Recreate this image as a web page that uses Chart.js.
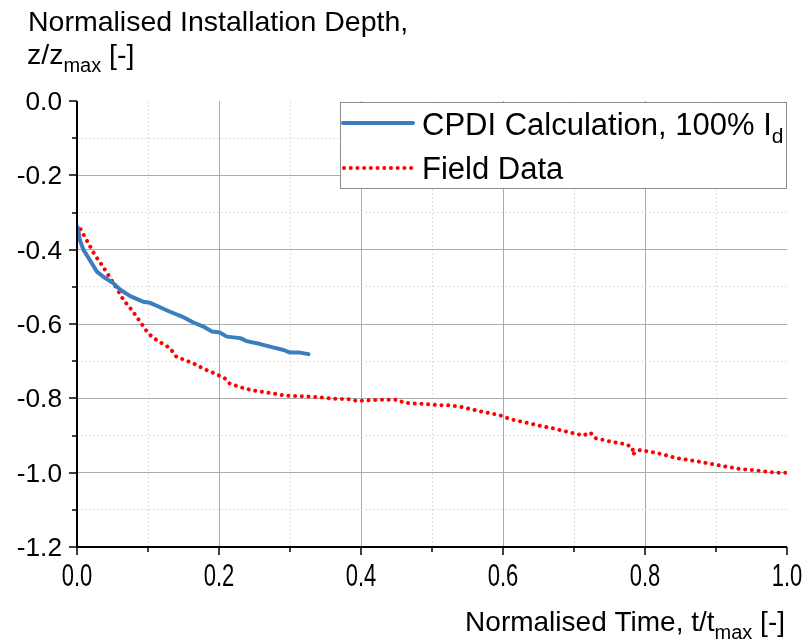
<!DOCTYPE html>
<html>
<head>
<meta charset="utf-8">
<script src="https://cdn.jsdelivr.net/npm/chart.js@4.4.1/dist/chart.umd.min.js"></script>
<style>
    html, body { margin: 0; padding: 0; background: #fff; }
    #wrap { width: 809px; height: 642px; }
</style>
</head>
<body>
<div id="wrap"><canvas id="chart" width="809" height="642"></canvas></div>
<script>
// Data
const cpdiTime = [0.001, 0.004, 0.009, 0.018, 0.028, 0.037, 0.051, 0.061, 0.075, 0.093, 0.103, 0.117, 0.131, 0.148,
    0.164, 0.178, 0.190, 0.201, 0.211, 0.230, 0.239, 0.258, 0.276, 0.291, 0.300, 0.314, 0.326];
const cpdiDepth = [-0.340, -0.374, -0.400, -0.428, -0.459, -0.473, -0.490, -0.508, -0.525, -0.540, -0.543, -0.555, -0.567, -0.580,
    -0.596, -0.607, -0.620, -0.623, -0.634, -0.638, -0.646, -0.654, -0.663, -0.670, -0.677, -0.677, -0.681];

const fieldTime = [0.005, 0.016, 0.025, 0.035, 0.044, 0.056, 0.065, 0.077, 0.089, 0.100, 0.112, 0.131, 0.140, 0.164,
    0.180, 0.194, 0.208, 0.215, 0.230, 0.248, 0.267, 0.295, 0.328, 0.356, 0.385, 0.394, 0.422, 0.453, 0.460,
    0.488, 0.507, 0.525, 0.544, 0.563, 0.582, 0.598, 0.610, 0.629, 0.652, 0.671, 0.690, 0.713, 0.723, 0.730,
    0.748, 0.774, 0.783, 0.782, 0.793, 0.819, 0.845, 0.875, 0.906, 0.934, 0.962, 0.985, 1.000];
const fieldDepth = [-0.345, -0.383, -0.414, -0.441, -0.468, -0.504, -0.534, -0.562, -0.594, -0.625, -0.643, -0.665, -0.688, -0.706,
    -0.722, -0.733, -0.746, -0.760, -0.770, -0.779, -0.784, -0.793, -0.795, -0.800, -0.803, -0.807, -0.804, -0.804, -0.812,
    -0.815, -0.818, -0.819, -0.824, -0.833, -0.840, -0.847, -0.856, -0.864, -0.874, -0.881, -0.890, -0.900, -0.892, -0.907,
    -0.915, -0.924, -0.934, -0.951, -0.939, -0.948, -0.961, -0.970, -0.981, -0.990, -0.995, -1.000, -1.000];

const xTickLabels = ['0.0', '0.2', '0.4', '0.6', '0.8', '1.0'];
const yTickLabels = ['0.0', '-0.2', '-0.4', '-0.6', '-0.8', '-1.0', '-1.2'];

const FONT = '"Liberation Sans", Arial, sans-serif';
const BLUE = '#3a7ebf';
const RED = '#ff0000';

const toPoints = (xs, ys) => xs.map((x, i) => ({ x, y: ys[i] }));

// major = every 0.2, minor = every 0.1
const isMajor = v => Math.round(Math.abs(v) * 10) % 2 === 0;

function gridColor(ctx, edgeValue) {
    const v = ctx.tick ? ctx.tick.value : 0;
    if (Math.abs(v - edgeValue) < 1e-6) return 'rgba(0,0,0,0)';
    return isMajor(v) ? '#ababab' : '#dedede';
}

// text helper, with optional stretch
function text(ctx, str, x, y, size, align = 'left', sx = 1, sy = 1) {
    ctx.save();
    ctx.translate(x, y);
    ctx.scale(sx, sy);
    ctx.font = `${size}px ${FONT}`;
    ctx.fillStyle = '#000';
    ctx.textAlign = align;
    ctx.textBaseline = 'alphabetic';
    ctx.fillText(str, 0, 0);
    const w = ctx.measureText(str).width * sx;
    ctx.restore();
    return w;
}

// draws [text, size, dy] parts one after another
function richText(ctx, parts, x, y) {
    let cx = x;
    parts.forEach(([str, size, dy]) => {
        cx += text(ctx, str, cx, y + (dy || 0), size);
    });
    return cx - x;
}

function richWidth(ctx, parts) {
    return parts.reduce((w, [str, size]) => {
        ctx.font = `${size}px ${FONT}`;
        return w + ctx.measureText(str).width;
    }, 0);
}

const decorations = {
    id: 'decorations',
    afterDraw(chart) {
        const { ctx, chartArea: a, scales } = chart;
        const xs = scales.x, ys = scales.y;

        // axis lines
        ctx.save();
        ctx.strokeStyle = '#000';
        ctx.lineWidth = 2;
        ctx.beginPath();
        ctx.moveTo(a.left, a.top);
        ctx.lineTo(a.left, a.bottom);
        ctx.lineTo(a.right, a.bottom);
        ctx.stroke();

        // tick marks
        ctx.lineWidth = 1.5;
        ys.ticks.forEach(t => {
            const py = Math.round(ys.getPixelForValue(t.value));
            const len = isMajor(t.value) ? 8 : 5;
            ctx.beginPath();
            ctx.moveTo(a.left - len, py);
            ctx.lineTo(a.left, py);
            ctx.stroke();
        });
        xs.ticks.forEach(t => {
            const px = Math.round(xs.getPixelForValue(t.value));
            const len = isMajor(t.value) ? 8 : 5;
            ctx.beginPath();
            ctx.moveTo(px, a.bottom);
            ctx.lineTo(px, a.bottom + len);
            ctx.stroke();
        });
        ctx.restore();

        // tick labels
        yTickLabels.forEach(lbl => {
            const py = ys.getPixelForValue(parseFloat(lbl));
            text(ctx, lbl, 62, py + 9, 25, 'right', 1.05, 1);
        });
        xTickLabels.forEach(lbl => {
            const px = xs.getPixelForValue(parseFloat(lbl));
            text(ctx, lbl, px, 586, 25, 'center', 0.88, 1.22);
        });

        // axis titles
        text(ctx, 'Normalised Installation Depth,', 28, 31, 28.5);
        richText(ctx, [['z/z', 28.5], ['max', 20, 8], [' [-]', 28.5]], 27, 64);

        const xTitle = [['Normalised Time, t/t', 28], ['max', 20, 8], [' [-]', 28]];
        richText(ctx, xTitle, 785 - richWidth(ctx, xTitle), 631);

        // legend
        const box = { x: 340.5, y: 102.5, w: 446, h: 86 };
        ctx.save();
        ctx.fillStyle = '#fff';
        ctx.fillRect(box.x, box.y, box.w, box.h);
        ctx.strokeStyle = '#8c8c8c';
        ctx.lineWidth = 1;
        ctx.strokeRect(box.x, box.y, box.w, box.h);

        const ds = chart.data.datasets;
        const rows = [123, 168];
        ds.forEach((d, i) => {
            ctx.beginPath();
            ctx.strokeStyle = d.borderColor;
            ctx.lineWidth = d.borderWidth;
            ctx.lineCap = d.borderCapStyle || 'butt';
            ctx.setLineDash(d.borderDash || []);
            ctx.moveTo(i === 0 ? 343 : 344, rows[i]);
            ctx.lineTo(413, rows[i]);
            ctx.stroke();
        });
        ctx.restore();
        richText(ctx, [['CPDI Calculation, 100% I', 31], ['d', 21, 8]], 422, 135);
        richText(ctx, [['Field Data', 31]], 422, 179);
    }
};

new Chart(document.getElementById('chart'), {
    type: 'scatter',
    data: {
        datasets: [
            {
                label: 'CPDI Calculation, 100% Id',
                data: toPoints(cpdiTime, cpdiDepth),
                showLine: true,
                borderColor: BLUE,
                borderWidth: 4,
                borderCapStyle: 'round',
                borderJoinStyle: 'round',
                pointRadius: 0,
                tension: 0
            },
            {
                label: 'Field Data',
                data: toPoints(fieldTime, fieldDepth),
                showLine: true,
                borderColor: RED,
                borderWidth: 4,
                borderCapStyle: 'round',
                borderDash: [0.01, 6.7],
                pointRadius: 0,
                tension: 0
            }
        ]
    },
    options: {
        responsive: false,
        animation: false,
        layout: { padding: { left: 77, top: 101, right: 22, bottom: 95 } },
        plugins: {
            legend: { display: false },
            tooltip: { enabled: false },
            title: { display: false }
        },
        scales: {
            x: {
                type: 'linear',
                min: 0,
                max: 1,
                ticks: { display: false, stepSize: 0.1 },
                grid: {
                    drawTicks: false,
                    color: ctx => gridColor(ctx, 1),
                    lineWidth: 1
                },
                border: {
                    display: false,
                    dash: ctx => (ctx.tick && !isMajor(ctx.tick.value)) ? [2, 2] : []
                }
            },
            y: {
                type: 'linear',
                min: -1.2,
                max: 0,
                ticks: { display: false, stepSize: 0.1 },
                grid: {
                    drawTicks: false,
                    color: ctx => gridColor(ctx, 0),
                    lineWidth: 1
                },
                border: {
                    display: false,
                    dash: ctx => (ctx.tick && !isMajor(ctx.tick.value)) ? [2, 2] : []
                }
            }
        }
    },
    plugins: [decorations]
});
</script>
</body>
</html>
